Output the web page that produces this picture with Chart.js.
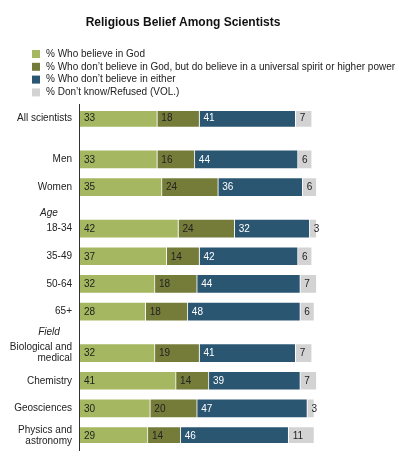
<!DOCTYPE html>
<html>
<head>
<meta charset="utf-8">
<script src="https://cdn.jsdelivr.net/npm/chart.js@4/dist/chart.umd.min.js"></script>
<style>
  html, body { margin: 0; padding: 0; background: #fff; }
  #wrap { width: 398px; height: 457px; position: relative; }
</style>
</head>
<body>
<div id="wrap"><canvas id="grafica"></canvas></div>
<script>
// data
const groups = ['All scientists', 'Men', 'Women', '18-34', '35-49', '50-64', '65+',
  ['Biological and', 'medical'], 'Chemistry', 'Geosciences', ['Physics and', 'astronomy']];
const believeGod = [33, 33, 35, 42, 37, 32, 28, 32, 41, 30, 29];
const spiritPower = [18, 16, 24, 24, 14, 18, 18, 19, 14, 20, 14];
const believeNeither = [41, 44, 36, 32, 42, 44, 48, 41, 39, 47, 46];
const dontKnow = [7, 6, 6, 3, 6, 7, 6, 7, 7, 3, 11];
const seriesNames = [
  '% Who believe in God',
  '% Who don\u2019t believe in God, but do believe in a universal spirit or higher power',
  '% Who don\u2019t believe in either',
  '% Don\u2019t know/Refused (VOL.)'
];
// section headings shown above a group
const headings = { 3: 'Age', 7: 'Field' };

// layout: empty half-rows before each group
const gapsBefore = [0, 2, 1, 2, 1, 1, 1, 2, 1, 1, 1];
const colores = ['#A5B760', '#757C3A', '#2B5672', '#D3D3D3'];
const FONT = '"Liberation Sans", Arial, sans-serif';

// build category slots (groups plus spacer rows)
const slots = [];
const slotOf = [];
groups.forEach((g, i) => {
  for (let k = 0; k < gapsBefore[i]; k++) slots.push('');
  slotOf.push(slots.length);
  slots.push(g);
});
function spread(values) {
  const out = slots.map(() => null);
  values.forEach((v, i) => { out[slotOf[i]] = v; });
  return out;
}

const allSeries = [believeGod, spiritPower, believeNeither, dontKnow];

const extras = {
  id: 'extras',
  afterDatasetsDraw(chart) {
    const ctx = chart.ctx;
    ctx.save();
    ctx.font = '10px ' + FONT;
    ctx.textBaseline = 'middle';
    ctx.textAlign = 'left';
    chart.data.datasets.forEach((ds, di) => {
      const meta = chart.getDatasetMeta(di);
      meta.data.forEach((bar, idx) => {
        const v = ds.data[idx];
        if (v === null || v === undefined) return;
        ctx.fillStyle = di === 2 ? '#ffffff' : '#222222';
        ctx.fillText(String(v), bar.base + 4, bar.y + 0.5);
      });
    });
    ctx.restore();
  },
  afterDraw(chart) {
    const ctx = chart.ctx;
    const area = chart.chartArea;
    const yScale = chart.scales.y;
    ctx.save();

    // y axis line
    ctx.strokeStyle = '#333';
    ctx.lineWidth = 1;
    ctx.beginPath();
    ctx.moveTo(area.left - 0.5, area.top - 7);
    ctx.lineTo(area.left - 0.5, area.bottom + 8);
    ctx.stroke();

    // legend, one item per line
    ctx.font = '10px ' + FONT;
    ctx.textBaseline = 'middle';
    ctx.textAlign = 'left';
    chart.data.datasets.forEach((ds, i) => {
      const y = 54 + i * 12.8;
      ctx.fillStyle = ds.backgroundColor;
      ctx.fillRect(32, y - 4, 8, 8);
      ctx.fillStyle = '#222';
      ctx.fillText(ds.label, 46, y);
    });

    // section headings
    ctx.font = 'italic 10px ' + FONT;
    ctx.textAlign = 'center';
    Object.keys(headings).forEach(k => {
      const gi = Number(k);
      const lines = Array.isArray(groups[gi]) ? groups[gi].length : 1;
      const yc = yScale.getPixelForValue(slotOf[gi]);
      ctx.fillStyle = '#222';
      ctx.fillText(headings[k], 49, yc - lines * 11 / 2 - 10);
    });
    ctx.restore();
  }
};

const ctx = document.getElementById('grafica').getContext('2d');

new Chart(ctx, {
  type: 'bar',
  data: {
    labels: slots,
    datasets: allSeries.map((serie, i) => ({
      label: seriesNames[i],
      data: spread(serie),
      backgroundColor: colores[i],
      borderColor: 'rgba(255,255,255,0.75)',
      borderWidth: { left: 0, right: 1, top: 1, bottom: 1 },
      borderSkipped: false,
      barThickness: 19
    }))
  },
  options: {
    indexAxis: 'y',
    responsive: true,
    maintainAspectRatio: false,
    animation: false,
    layout: { padding: { left: 0, right: 32, top: 0, bottom: 14 } },
    scales: {
      x: {
        stacked: true,
        display: false,
        min: 0,
        max: 122
      },
      y: {
        stacked: true,
        grid: { display: false, drawTicks: false },
        border: { display: false },
        afterFit(scale) { scale.width = 80; },
        ticks: {
          autoSkip: false,
          padding: 8,
          color: '#222',
          font: { family: FONT, size: 10, lineHeight: 1.1 }
        }
      }
    },
    plugins: {
      legend: { display: false },
      tooltip: { enabled: false },
      title: {
        display: true,
        text: 'Religious Belief Among Scientists',
        color: '#111',
        font: { family: FONT, size: 12, weight: 'bold' },
        padding: { top: 15, bottom: 81.6 }
      }
    }
  },
  plugins: [extras]
});
</script>
</body>
</html>
